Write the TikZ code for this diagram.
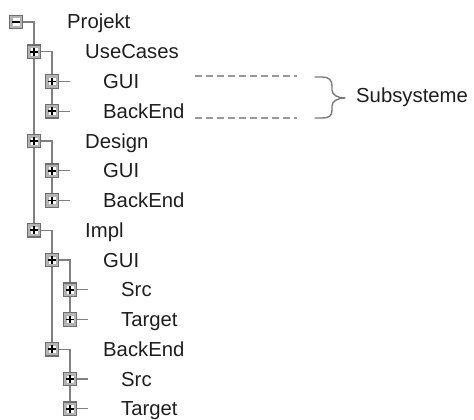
\documentclass[tikz,border=0pt]{standalone}
\usepackage{fontspec}
\setmainfont{Liberation Sans}
\usetikzlibrary{backgrounds}
\definecolor{treeline}{HTML}{808080}
\definecolor{boxedge}{HTML}{6E6E6E}
\definecolor{boxfill}{HTML}{B4B4B4}
\definecolor{txt}{HTML}{1E1E1E}
\newcommand\boxinnerframe{%
  \fill[white] ([shift={(2.6pt,2.6pt)}]path picture bounding box.south west) rectangle ([shift={(-2.6pt,-2.6pt)}]path picture bounding box.north east);
  \draw[gray!60,line width=.7pt] ([shift={(2.6pt,2.6pt)}]path picture bounding box.south west) rectangle ([shift={(-2.6pt,-2.6pt)}]path picture bounding box.north east);
  \draw[black,line width=1.8pt] ([xshift=-3.8pt]path picture bounding box.center) -- ([xshift=3.8pt]path picture bounding box.center);}
\begin{document}
\begin{tikzpicture}[x=1pt,y=-1pt,
  tbox/.style={draw=boxedge, line width=1.1pt, fill=boxfill, minimum size=13.5pt, inner sep=0pt, outer sep=0pt},
  minusbox/.style={tbox, path picture={\boxinnerframe}},
  plusbox/.style={tbox, path picture={\boxinnerframe
      \draw[black,line width=1.8pt] ([yshift=-3.8pt]path picture bounding box.center) -- ([yshift=3.8pt]path picture bounding box.center);}},
  lbl/.style={anchor=base west, inner sep=0pt, text=txt, font=\fontsize{20.3}{24}\selectfont},
  tree/.style={draw=treeline, line width=1.3pt},
  guide/.style={draw=gray!80, line width=1.3pt, dash pattern=on 7pt off 4pt},
  bracestyle/.style={draw=gray!95!black, line width=1.4pt, line cap=round, line join=round}
]
\useasboundingbox (0,0) rectangle (474,420);

% boxes
\node[minusbox] (b0)  at (16,22) {};
\node[plusbox]  (b1)  at (34,51.75) {};
\node[plusbox]  (b2)  at (52,81.5) {};
\node[plusbox]  (b3)  at (52,111.25) {};
\node[plusbox]  (b4)  at (34,141) {};
\node[plusbox]  (b5)  at (52,170.75) {};
\node[plusbox]  (b6)  at (52,200.5) {};
\node[plusbox]  (b7)  at (34,230.25) {};
\node[plusbox]  (b8)  at (52,260) {};
\node[plusbox]  (b9)  at (70,289.75) {};
\node[plusbox]  (b10) at (70,319.5) {};
\node[plusbox]  (b11) at (52,349.25) {};
\node[plusbox]  (b12) at (70,379) {};
\node[plusbox]  (b13) at (70,408.75) {};

% labels
\node[lbl] (t0)  at (67,29) {Projekt};
\node[lbl] (t1)  at (85,58.75) {UseCases};
\node[lbl] (t2)  at (103,88.5) {GUI};
\node[lbl] (t3)  at (103,118.25) {BackEnd};
\node[lbl] (t4)  at (85,148) {Design};
\node[lbl] (t5)  at (103,177.75) {GUI};
\node[lbl] (t6)  at (103,207.5) {BackEnd};
\node[lbl] (t7)  at (85,237.25) {Impl};
\node[lbl] (t8)  at (103,267) {GUI};
\node[lbl] (t9)  at (121,296.75) {Src};
\node[lbl] (t10) at (121,326.5) {Target};
\node[lbl] (t11) at (103,356.25) {BackEnd};
\node[lbl] (t12) at (121,386) {Src};
\node[lbl] (t13) at (121,415.75) {Target};

% tree connectors
\begin{pgfonlayer}{background}
\draw[tree] (b0.east) -| (b7.north);
\draw[tree] (b1.east) -| (b3.north);
\draw[tree] (b4.east) -| (b6.north);
\draw[tree] (b7.east) -| (b11.north);
\draw[tree] (b8.east) -| (b10.north);
\draw[tree] (b11.east) -| (b13.north);
\foreach \n in {b2,b3,b5,b6,b9,b10,b12,b13}{
  \draw[tree] (\n.east) -- +(11.5,0);
}
\end{pgfonlayer}

% dashed guides and brace
\coordinate (g1a) at (195,76);
\coordinate (g1b) at (297,76);
\coordinate (g2a) at (195,118);
\coordinate (g2b) at (297,118);
\draw[guide] (g1a) -- (g1b);
\draw[guide] (g2a) -- (g2b);
\draw[bracestyle] (315,77) -- (322,77) .. controls (329,77) and (332,80) .. (332,86) -- (332,90)
  .. controls (332,95) and (338,98) .. (345,98)
  .. controls (338,98) and (332,101) .. (332,106) -- (332,110)
  .. controls (332,116) and (329,118) .. (322,118) -- (315,118);
\node[lbl, anchor=west] (sub) at (356,97) {Subsysteme};
\end{tikzpicture}
\end{document}
